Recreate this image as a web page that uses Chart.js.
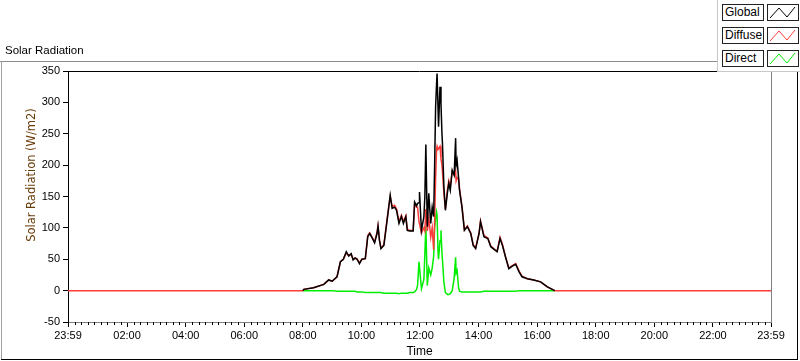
<!DOCTYPE html>
<html>
<head>
<meta charset="utf-8">
<script src="https://cdn.jsdelivr.net/npm/chart.js@4.4.1/dist/chart.umd.min.js"></script>
<style>
  body { margin: 0; background: #fff; }
  #wrap { position: relative; width: 800px; height: 361px; overflow: hidden; font-family: 'Liberation Sans', Arial, sans-serif; }
  #c { position: absolute; left: 0; top: 0; }
  .ln { position: absolute; }
  #title { position: absolute; left: 5px; top: 43px; font-size: 11.5px; line-height: 14px; color: #000; }
  #legend { position: absolute; left: 717px; top: 0; width: 83px; height: 72px; background: #fff;
            border-left: 1px solid #c8c8c8; border-bottom: 1px solid #c8c8c8; box-sizing: border-box; }
  .lab { position: absolute; left: 4px; width: 42px; height: 17px; border: 1px solid #222; box-sizing: border-box;
         font-size: 12px; line-height: 15px; padding-left: 2px; color: #000; }
  .sw { position: absolute; left: 49px; width: 32px; height: 17px; border: 1px solid #222; box-sizing: border-box; }
</style>
</head>
<body>
<div id="wrap">
  <canvas id="c" width="800" height="361"></canvas>
  <div class="ln" style="left:0;top:61px;width:717px;height:1px;background:#8c8c8c"></div>
  <div class="ln" style="left:1px;top:61px;width:1px;height:299px;background:#a0a0a0"></div>
  <div class="ln" style="left:1px;top:359px;width:797px;height:1px;background:#000"></div>
  <div class="ln" style="left:797px;top:72px;width:1px;height:288px;background:#000"></div>
  <div id="title">Solar Radiation</div>
  <div id="legend"></div>
</div>
<script>
// time in minutes since midnight (-1 = 23:59 of the day before)
const times = [-1, 480, 482, 502, 523, 533, 540, 550, 557, 563, 569, 574, 579, 583, 587, 591, 596,
  601, 608, 613, 617, 622, 627, 632, 634, 637, 640, 646, 651, 656, 659, 663, 668, 672, 677, 682, 686,
  691, 694, 699, 706, 709, 713, 715, 718, 719, 723, 728, 730, 732, 735, 738, 742, 745, 748, 750, 752,
  754, 755, 757, 758, 761, 763, 765, 766, 769, 772, 776, 779, 782, 786, 790, 793, 794, 796, 799, 801,
  806, 811, 817, 824, 829, 834, 841, 844, 851, 859, 865, 873, 878, 884, 889, 895, 902, 909, 916, 923,
  929, 940, 953, 967, 981, 991, 996, 1439];

const globalVals = [null, 0, 2, 4.5, 10, 17, 15, 22, 46, 50, 62, 55, 59, 49, 52, 50, 43,
  50, 51, 86, 91, 84, 76, 91, 103, 80, 67, 72, 102, 133, 152, 131, 133, 128, 107, 118, 107,
  118, 96, 95, 95, 141, 135, 139, 140, 157, 96, 118, 150, 233, 102, 155, 107, 133, 118, 200, 293,
  330, 346, 290, 261, 325, 298, 250, 235, 165, 128, 155, 171, 160, 192, 184, 243, 200, 208, 180, 160,
  133, 96, 102, 91, 72, 67, 91, 110, 86, 83, 70, 65, 62, 83, 72, 54, 35, 39, 42, 30,
  22, 19, 17, 14, 6, 2, 0, null];

const diffuseVals = [0, 0, 2, 4.5, 10, 17, 15, 22, 46, 50, 60, 56, 58, 50, 52, 51, 44,
  50, 51, 88, 92, 85, 78, 93, 103, 81, 68, 73, 104, 134, 150, 134, 136, 130, 110, 120, 110,
  119, 98, 96, 96, 139, 133, 133, 110, 110, 92, 100, 95, 130, 95, 115, 85, 100, 65, 110, 180,
  225, 230, 225, 225, 230, 210, 200, 190, 155, 130, 160, 175, 165, 190, 185, 190, 175, 180, 178, 162,
  134, 97, 103, 92, 73, 68, 92, 111, 88, 84, 71, 66, 63, 85, 73, 55, 36, 40, 43, 31,
  23, 19, 17, 14, 6, 2, 0, 0];

const directVals = [null, 0, 0, 0, 0, 0, 0, -1, -1, -1, -1, -1, -1, -1, -1, -2, -2,
  -2, -3, -3, -3, -3, -3, -3, -3, -3, -3, -4, -4, -4, -4, -4, -4, -4, -5, -4, -4,
  -4, -4, -3, -3, -2, 2, 8, 46, 46, 3, 18, 59, 102, 8, 36, 25, 36, 55, 100, 115,
  125, 120, 60, 50, 80, 96, 60, 50, 13, -3, -6, -6, -5, 0, 20, 53, 28, 32, 5, -1,
  -2, -2, -2, -2, -2, -2, -2, -2, -1, -1, -1, -1, -1, -1, -1, -1, -1, -1, -1, 0,
  0, 0, 0, 0, 0, 0, 0, null];

const seriesNames = ['Global', 'Diffuse', 'Direct'];
const seriesColors = ['#000000', '#ff3b3b', '#00ee00'];

const majorTicks = [-1, 120, 240, 360, 480, 600, 720, 840, 960, 1080, 1200, 1320, 1439];

const FONT = "'Liberation Sans', Arial, sans-serif";

function pts(vals) {
  return times.map((t, i) => ({ x: t, y: vals[i] }));
}

function tickLabel(v) {
  if (v === -1 || v === 1439) return '23:59';
  const h = Math.round(v / 60);
  return (h < 10 ? '0' : '') + h + ':00';
}

// legend boxes
const legend = document.getElementById('legend');
seriesNames.forEach((name, i) => {
  const top = 4 + i * 23;
  const lab = document.createElement('div');
  lab.className = 'lab';
  lab.style.top = top + 'px';
  lab.textContent = name;
  legend.appendChild(lab);
  const sw = document.createElement('div');
  sw.className = 'sw';
  sw.style.top = top + 'px';
  sw.innerHTML = '<svg width="30" height="15"><polyline points="2,13 11,3 19,12 27,2" fill="none" stroke="' +
    seriesColors[i] + '" stroke-width="1"/></svg>';
  legend.appendChild(sw);
});

// frame lines, minor x ticks and the rotated y title
const extras = {
  id: 'extras',
  afterDraw(chart) {
    const ctx = chart.ctx;
    const a = chart.chartArea;
    const x = chart.scales.x;
    ctx.save();
    ctx.lineWidth = 1;
    ctx.strokeStyle = '#000';
    ctx.beginPath();
    ctx.moveTo(a.left, a.top + 0.5);
    ctx.lineTo(a.right, a.top + 0.5);
    ctx.stroke();
    ctx.strokeStyle = '#808080';
    ctx.beginPath();
    ctx.moveTo(a.right + 0.5, a.top);
    ctx.lineTo(a.right + 0.5, a.bottom);
    ctx.stroke();
    // minor ticks, 9 divisions per major interval
    ctx.strokeStyle = '#000';
    ctx.beginPath();
    for (let m = 0; m < majorTicks.length - 1; m++) {
      const v0 = majorTicks[m], v1 = majorTicks[m + 1];
      for (let j = 1; j < 9; j++) {
        const px = Math.round(x.getPixelForValue(v0 + (v1 - v0) * j / 9)) + 0.5;
        ctx.moveTo(px, a.bottom);
        ctx.lineTo(px, a.bottom + 3);
      }
    }
    ctx.stroke();
    // y axis title
    ctx.translate(32, 175);
    ctx.rotate(-Math.PI / 2);
    ctx.fillStyle = '#6a3c0a';
    ctx.font = "11.5px 'DejaVu Sans', sans-serif";
    ctx.textAlign = 'center';
    ctx.textBaseline = 'middle';
    ctx.fillText('Solar Radiation (W/m2)', 0, 0);
    ctx.restore();
  }
};

const chart = new Chart(document.getElementById('c'), {
  type: 'line',
  data: {
    datasets: [
      { label: seriesNames[0], data: pts(globalVals), borderColor: seriesColors[0] },
      { label: seriesNames[1], data: pts(diffuseVals), borderColor: seriesColors[1] },
      { label: seriesNames[2], data: pts(directVals), borderColor: seriesColors[2] }
    ]
  },
  options: {
    responsive: false,
    animation: false,
    spanGaps: false,
    elements: {
      line: { borderWidth: 1.5, tension: 0, fill: false },
      point: { radius: 0 }
    },
    layout: { padding: { top: 71, right: 29, left: 0, bottom: 0 } },
    plugins: { legend: { display: false }, tooltip: { enabled: false } },
    scales: {
      x: {
        type: 'linear',
        min: -1,
        max: 1439,
        afterBuildTicks: s => { s.ticks = majorTicks.map(v => ({ value: v })); },
        afterFit: s => { s.height = 39; },
        ticks: {
          callback: v => tickLabel(v),
          autoSkip: false,
          maxRotation: 0,
          padding: 2,
          color: '#000',
          font: { family: FONT, size: 11 }
        },
        grid: { drawOnChartArea: false, tickLength: 5, tickColor: '#000' },
        border: { color: '#808080' },
        title: {
          display: true,
          text: 'Time',
          color: '#000',
          font: { family: FONT, size: 12 },
          padding: { top: 0, bottom: 2 }
        }
      },
      y: {
        min: -50,
        max: 350,
        afterFit: s => { s.width = 68; },
        ticks: {
          stepSize: 50,
          padding: 3,
          color: '#000',
          font: { family: FONT, size: 11 }
        },
        grid: { drawOnChartArea: false, tickLength: 5, tickColor: '#000' },
        border: { color: '#000' }
      }
    }
  },
  plugins: [extras]
});
</script>
</body>
</html>
